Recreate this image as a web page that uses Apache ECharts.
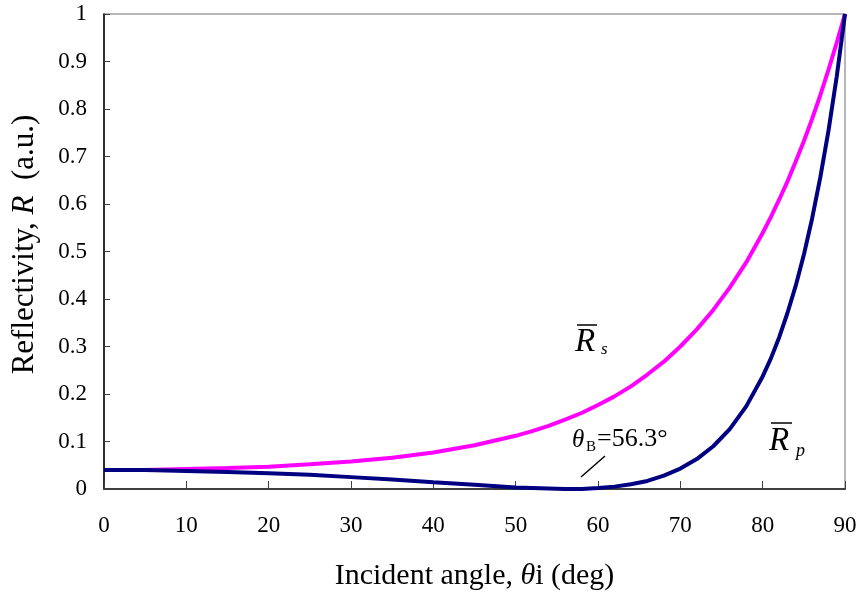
<!DOCTYPE html>
<html>
<head>
<meta charset="utf-8">
<script src="https://cdn.jsdelivr.net/npm/echarts@6/dist/echarts.min.js"></script>
<style>
  html, body { margin: 0; padding: 0; background: #fff; }
  #chart { width: 860px; height: 599px; }
</style>
</head>
<body>
<div id="chart"></div>
<script>
// incident angle (deg)
const angles = [0, 5, 10, 15, 20, 25, 30, 35, 40, 45, 50, 52, 54, 56, 58, 60, 62, 64, 66, 68,
  70, 72, 74, 76, 78, 80, 81, 82, 83, 84, 85, 86, 87, 88, 89, 90];
// s-polarised reflectivity
const rs = [0.040, 0.040, 0.042, 0.044, 0.047, 0.052, 0.058, 0.066, 0.077, 0.092, 0.112, 0.122,
  0.133, 0.146, 0.160, 0.177, 0.195, 0.216, 0.241, 0.268, 0.300, 0.336, 0.377, 0.424, 0.477,
  0.539, 0.573, 0.609, 0.647, 0.689, 0.732, 0.779, 0.829, 0.883, 0.940, 1.0];
// p-polarised reflectivity
const rp = [0.040, 0.040, 0.038, 0.036, 0.033, 0.030, 0.025, 0.020, 0.014, 0.009, 0.003, 0.002,
  0.001, 0.000, 0.000, 0.002, 0.005, 0.010, 0.017, 0.028, 0.043, 0.063, 0.090, 0.126, 0.174,
  0.237, 0.275, 0.319, 0.370, 0.427, 0.493, 0.569, 0.656, 0.755, 0.869, 1.0];

const yTicks = [0, 0.1, 0.2, 0.3, 0.4, 0.5, 0.6, 0.7, 0.8, 0.9, 1];

const serif = '"Liberation Serif", "DejaVu Serif", serif';

const chart = echarts.init(document.getElementById('chart'));

const option = {
  backgroundColor: '#fff',
  animation: false,
  grid: {
    left: 104, right: 15, top: 14, bottom: 110,
    show: true, borderColor: '#a0a0a0', borderWidth: 1.5
  },
  xAxis: {
    type: 'value',
    min: 0, max: 90, interval: 10,
    name: '{a|Incident angle, }{t|θ}{a|i (deg)}',
    nameLocation: 'middle',
    nameGap: 72,
    nameTextStyle: {
      rich: {
        a: { fontFamily: serif, fontSize: 30, color: '#000' },
        t: { fontFamily: serif, fontSize: 30, fontStyle: 'italic', color: '#000' }
      }
    },
    axisLine: { lineStyle: { color: '#404040', width: 2 } },
    axisTick: { inside: true, length: 8, lineStyle: { color: '#404040', width: 1 } },
    axisLabel: { fontFamily: serif, fontSize: 23, color: '#000', margin: 25 },
    splitLine: { show: false }
  },
  yAxis: {
    type: 'value',
    min: 0, max: 1, interval: 0.1,
    name: '{a|Reflectivity, }{t|R}{a|  (a.u.)}',
    nameLocation: 'middle',
    nameGap: 64,
    nameRotate: 90,
    nameTextStyle: {
      padding: [0, 0, 0, 14],
      rich: {
        a: { fontFamily: serif, fontSize: 31, color: '#000' },
        t: { fontFamily: serif, fontSize: 31, fontStyle: 'italic', color: '#000' }
      }
    },
    axisLine: { show: true, lineStyle: { color: '#000', width: 1.5 } },
    axisTick: { show: true, inside: true, length: 6, lineStyle: { color: '#404040', width: 1 } },
    axisLabel: {
      fontFamily: serif, fontSize: 23, color: '#000', margin: 17,
      formatter: v => {
        const t = yTicks.find(k => Math.abs(k - v) < 1e-6);
        if (t === 0) return '0';
        if (t === 1) return '1';
        return v.toFixed(1);
      }
    },
    splitLine: { show: false }
  },
  series: [
    {
      name: 'Rs',
      type: 'line',
      data: angles.map((a, i) => [a, rs[i]]),
      showSymbol: false,
      lineStyle: { color: '#ff00ff', width: 4 },
      z: 2
    },
    {
      name: 'Rp',
      type: 'line',
      data: angles.map((a, i) => [a, rp[i]]),
      showSymbol: false,
      lineStyle: { color: '#000080', width: 4 },
      z: 3
    }
  ],
  graphic: [
    // R-bar s label
    { type: 'line', shape: { x1: 577, y1: 325, x2: 597, y2: 325 }, style: { stroke: '#000', lineWidth: 1.5 } },
    { type: 'text', left: 575, top: 326, style: { text: 'R', font: 'italic 33px ' + serif, fill: '#000' } },
    { type: 'text', left: 601, top: 341, style: { text: 's', font: 'italic 17px ' + serif, fill: '#000' } },
    // R-bar p label
    { type: 'line', shape: { x1: 771, y1: 423, x2: 792, y2: 423 }, style: { stroke: '#000', lineWidth: 1.5 } },
    { type: 'text', left: 769, top: 425, style: { text: 'R', font: 'italic 33px ' + serif, fill: '#000' } },
    { type: 'text', left: 796, top: 442, style: { text: 'p', font: 'italic 18px ' + serif, fill: '#000' } },
    // Brewster angle note
    { type: 'text', left: 572, top: 428, style: { text: 'θ', font: 'italic 25px ' + serif, fill: '#000' } },
    { type: 'text', left: 586, top: 440, style: { text: 'B', font: '15px ' + serif, fill: '#000' } },
    { type: 'text', left: 597, top: 426, style: { text: '=56.3°', font: '26px ' + serif, fill: '#000' } },
    { type: 'line', shape: { x1: 581, y1: 477, x2: 605, y2: 456 }, style: { stroke: '#000', lineWidth: 1.5 } }
  ]
};

chart.setOption(option);
</script>
</body>
</html>
